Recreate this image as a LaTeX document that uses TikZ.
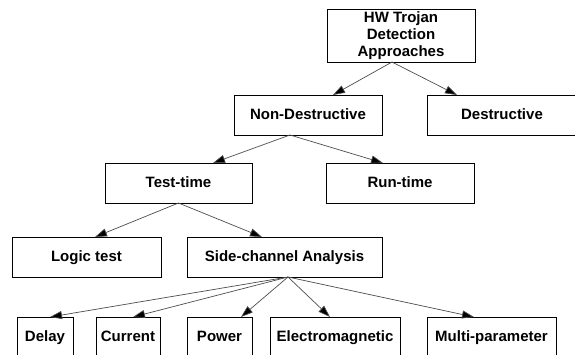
\documentclass[tikz,border=0pt]{standalone}
\usepackage{fontspec}
\setmainfont{Liberation Sans}
\usetikzlibrary{arrows.meta}
\begin{document}
\begin{tikzpicture}[x=1pt,y=-1pt,
  box/.style={draw=black,line width=0.9pt,rectangle,inner sep=0pt,outer sep=0pt,
    minimum height=40pt,align=center,
    font=\fontsize{15}{17}\selectfont\bfseries},
  onel/.style={box,text height=11pt,text depth=3pt},
  conn/.style={draw=black!70,line width=0.7pt,
    -{Triangle[length=12pt,width=8pt,fill=black]}}]
\useasboundingbox (0,0) rectangle (575,354);
\node[box,minimum width=148pt,minimum height=53pt] (hw) at (401,35.5) {HW Trojan\\Detection\\Approaches};
\node[onel,minimum width=148pt] (nd) at (308,115) {Non-Destructive};
\node[onel,minimum width=150pt] (des) at (502,115) {Destructive};
\node[onel,minimum width=147pt] (tt) at (178.5,183) {Test-time};
\node[onel,minimum width=148pt] (rt) at (400,183) {Run-time};
\node[onel,minimum width=149pt] (lt) at (86.5,257) {Logic test};
\node[onel,minimum width=195pt] (sc) at (284.5,257) {Side-channel Analysis};
\node[onel,minimum width=56pt] (delay) at (45,337) {Delay};
\node[onel,minimum width=64pt] (cur) at (128,337) {Current};
\node[onel,minimum width=65pt] (pow) at (219.5,337) {Power};
\node[onel,minimum width=130pt] (em) at (335,337) {Electromagnetic};
\node[onel,minimum width=129pt] (mp) at (491.5,337) {Multi-parameter};
\draw[conn] ([xshift=-9pt]hw.south) -- ([xshift=25pt]nd.north);
\draw[conn] ([xshift=-9pt]hw.south) -- ([xshift=-45pt]des.north);
\draw[conn] ([xshift=-18pt]nd.south) -- ([xshift=34.5pt]tt.north);
\draw[conn] ([xshift=-18pt]nd.south) -- ([xshift=-17pt]rt.north);
\draw[conn] (tt.south) -- ([xshift=8.5pt]lt.north);
\draw[conn] (tt.south) -- ([xshift=-22.5pt]sc.north);
\draw[conn] ([xshift=3.5pt]sc.south) -- ([xshift=5pt]delay.north);
\draw[conn] ([xshift=3.5pt]sc.south) -- ([xshift=5pt]cur.north);
\draw[conn] ([xshift=3.5pt]sc.south) -- ([xshift=21.5pt]pow.north);
\draw[conn] ([xshift=3.5pt]sc.south) -- ([xshift=-5pt]em.north);
\draw[conn] ([xshift=3.5pt]sc.south) -- ([xshift=-17.5pt]mp.north);
\end{tikzpicture}
\end{document}
